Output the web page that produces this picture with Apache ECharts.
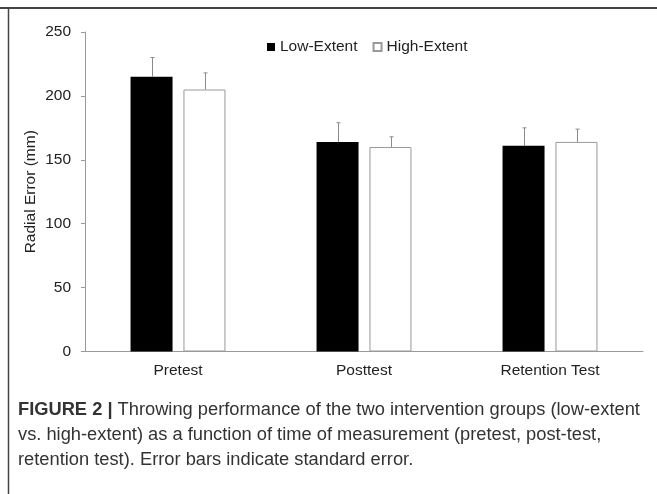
<!DOCTYPE html>
<html>
<head>
<meta charset="utf-8">
<script src="https://cdn.jsdelivr.net/npm/echarts@6/dist/echarts.min.js"></script>
<style>
html,body{margin:0;padding:0;background:#fff;}
#chart{width:657px;height:494px;}
</style>
</head>
<body>
<div id="chart"></div>
<script>
var categories = ['Pretest', 'Posttest', 'Retention Test'];
var lowExtent = [215, 164, 161];
var lowExtentSE = [15, 15, 14];
var highExtent = [205, 160, 164];
var highExtentSE = [13, 8, 10];
var yTicks = { min: 0, max: 250, interval: 50 };

var chart = echarts.init(document.getElementById('chart'), null, { renderer: 'canvas' });

function errorSeries(name, values, errs, offset) {
  var data = values.map(function (v, i) { return [i, v, v + errs[i]]; });
  return {
    type: 'custom',
    name: name + ' SE',
    silent: true,
    z: 3,
    data: data,
    renderItem: function (params, api) {
      var x = api.value(0);
      var base = api.coord([x, api.value(1)]);
      var top = api.coord([x, api.value(2)]);
      var cx = Math.round(base[0] + offset) + 0.5;
      var st = { stroke: '#8a8a8a', lineWidth: 1 };
      return {
        type: 'group',
        children: [
          { type: 'line', shape: { x1: cx, y1: base[1], x2: cx, y2: top[1] }, style: st },
          { type: 'line', shape: { x1: cx - 2, y1: top[1], x2: cx + 2, y2: top[1] }, style: st }
        ]
      };
    }
  };
}

var FS = 15.5;
var captionFont = '18.3px "Liberation Sans", Arial, sans-serif';

var option = {
  backgroundColor: '#fff',
  animation: false,
  textStyle: { fontFamily: '"Liberation Sans", Arial, sans-serif' },
  legend: {
    left: 262,
    top: 34,
    itemWidth: 8,
    itemHeight: 8,
    itemGap: 15,
    icon: 'rect',
    data: ['Low-Extent', 'High-Extent'],
    textStyle: { fontSize: FS, color: '#222' }
  },
  grid: { left: 85, right: 14, top: 32, bottom: 142.5, containLabel: false },
  xAxis: {
    type: 'category',
    data: categories,
    axisLine: { lineStyle: { color: '#999', width: 1 } },
    axisTick: { show: false },
    axisLabel: { fontSize: FS, color: '#222', margin: 11 }
  },
  yAxis: {
    type: 'value',
    min: yTicks.min,
    max: yTicks.max,
    interval: yTicks.interval,
    name: 'Radial Error (mm)',
    nameLocation: 'middle',
    nameGap: 46,
    nameMoveOverlap: false,
    nameTextStyle: { fontSize: FS, color: '#222' },
    axisLine: { show: true, lineStyle: { color: '#999', width: 1 } },
    axisTick: { show: true, length: 4, lineStyle: { color: '#999' } },
    axisLabel: { fontSize: FS, color: '#222', margin: 14 },
    splitLine: { show: false }
  },
  series: [
    {
      name: 'Low-Extent',
      type: 'bar',
      data: lowExtent,
      barWidth: 42,
      barGap: '26%',
      itemStyle: { color: '#000', borderColor: '#000', borderWidth: 0 }
    },
    {
      name: 'High-Extent',
      type: 'bar',
      data: highExtent,
      barWidth: 42,
      itemStyle: { color: '#fff', borderColor: '#999', borderWidth: 1 }
    },
    errorSeries('Low-Extent', lowExtent, lowExtentSE, -26.5),
    errorSeries('High-Extent', highExtent, highExtentSE, 26.5)
  ],
  graphic: [
    { type: 'line', shape: { x1: 0, y1: 8, x2: 657, y2: 8 }, style: { stroke: '#444', lineWidth: 2 } },
    { type: 'line', shape: { x1: 8.5, y1: 8, x2: 8.5, y2: 494 }, style: { stroke: '#444', lineWidth: 1.5 } },
    {
      type: 'text', left: 18, top: 401,
      style: {
        text: '{b|FIGURE 2 |} Throwing performance of the two intervention groups (low-extent',
        rich: {
          b: { font: 'bold 18.3px "Liberation Sans", Arial, sans-serif', fill: '#333' }
        },
        font: captionFont, fill: '#333'
      }
    },
    {
      type: 'text', left: 18, top: 426,
      style: { text: 'vs. high-extent) as a function of time of measurement (pretest, post-test,', font: captionFont, fill: '#333' }
    },
    {
      type: 'text', left: 18, top: 451,
      style: { text: 'retention test). Error bars indicate standard error.', font: captionFont, fill: '#333' }
    }
  ]
};

chart.setOption(option);
</script>
</body>
</html>
